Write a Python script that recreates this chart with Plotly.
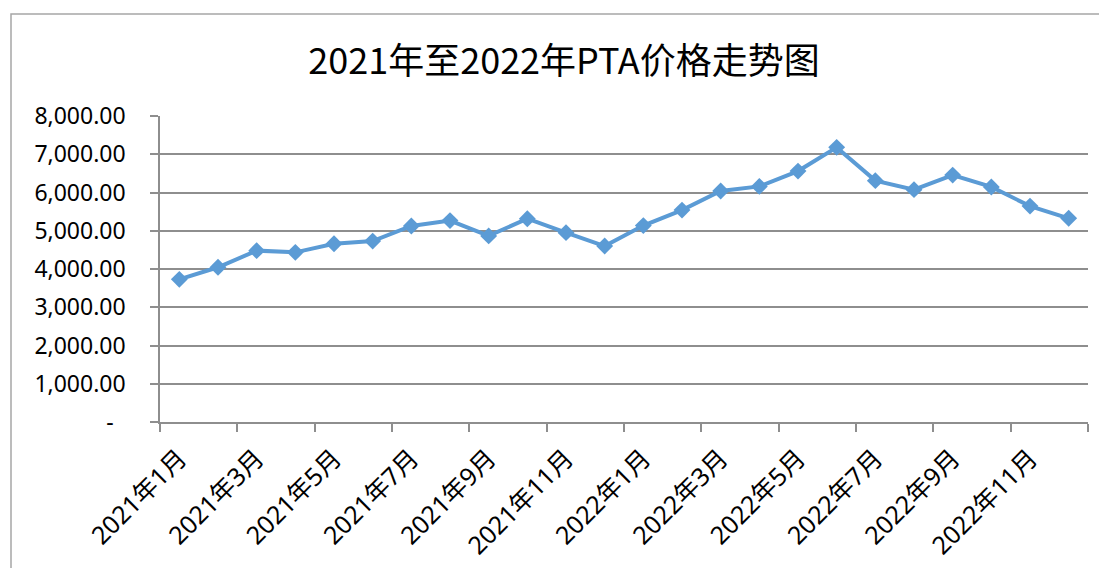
import plotly.graph_objects as go

months = [f"2021年{m}月" for m in range(1, 13)] + [f"2022年{m}月" for m in range(1, 13)]
prices = [3730, 4045, 4480, 4435, 4660, 4730, 5125, 5265, 4865, 5315, 4950, 4600,
          5135, 5540, 6040, 6160, 6560, 7180, 6310, 6075, 6455, 6145, 5645, 5325]
y_ticks = [0, 1000, 2000, 3000, 4000, 5000, 6000, 7000, 8000]
y_ticktext = ["-\u00a0\u00a0" if v == 0 else f"{v:,.2f}" for v in y_ticks]

title_text = "2021年至2022年PTA价格走势图"

# the page body adds an 8px offset; the figure is laid out to compensate
OFF = 8
W, H = 1107 - OFF, 568 - OFF

fig = go.Figure()
fig.add_trace(go.Scatter(
    x=months, y=prices, mode="lines+markers",
    line=dict(color="#5B9BD5", width=4),
    marker=dict(symbol="diamond", size=13, color="#5B9BD5"),
    showlegend=False,
))

grid = "#8E8E8E"
fig.update_layout(
    width=W, height=H,
    margin=dict(l=160 - OFF, r=W + OFF - 1088, t=116 - OFF, b=H + OFF - 422),
    paper_bgcolor="white", plot_bgcolor="white",
    title=dict(text=title_text, xref="container", yref="container",
               x=(564 - OFF) / W, y=1 - (61 - OFF) / H, xanchor="center", yanchor="middle",
               font=dict(family="Noto Sans CJK SC", size=36, color="black")),
    xaxis=dict(type="category", tickmode="linear", tick0=0, dtick=2,
               tickson="boundaries", range=[-0.5, 23.5], automargin=False,
               showline=True, linecolor=grid, linewidth=1.5,
               ticks="outside", ticklen=8, tickcolor=grid, tickwidth=1.5,
               showgrid=False, tickangle=-45, ticklabelstandoff=10,
               tickfont=dict(family="Noto Sans, Noto Sans CJK SC", size=25, color="black")),
    yaxis=dict(range=[0, 8000], tickvals=y_ticks, ticktext=y_ticktext, automargin=False,
               showline=True, linecolor=grid, linewidth=1.5,
               ticks="outside", ticklen=8, tickcolor=grid, tickwidth=1.5,
               showgrid=True, gridcolor=grid, gridwidth=1.5, zeroline=False,
               ticklabelstandoff=20,
               tickfont=dict(family="Noto Sans", size=23, color="black")),
    shapes=[dict(type="rect", xref="paper", yref="paper",
                 x0=(11 - 160) / 928, x1=(1112 - 160) / 928,
                 y0=(422 - 580) / 306, y1=(422 - 14) / 306,
                 line=dict(color="#A6A6A6", width=1.5), layer="below")],
)

fig.write_html("out.html")
